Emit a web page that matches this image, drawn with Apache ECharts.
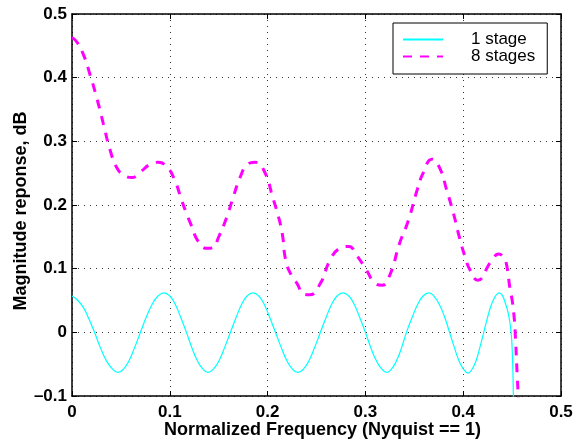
<!DOCTYPE html>
<html><head><meta charset="utf-8">
<script src="https://cdn.jsdelivr.net/npm/echarts@6/dist/echarts.min.js"></script>
<style>html,body{margin:0;padding:0;background:#fff}#c{width:580px;height:444px}</style>
</head><body><div id="c"></div>
<script>
// 1 stage response
const freq1 = [0.000,0.006,0.012,0.017,0.023,0.029,0.035,0.041,0.047,0.053,0.0585,0.064,0.070,0.076,0.082,0.088,0.094,0.100,0.1055,0.111,0.117,0.1225,0.128,0.1335,0.139,0.145,0.1505,0.156,0.162,0.168,0.1735,0.179,0.185,0.191,0.1965,0.202,0.208,0.214,0.2195,0.225,0.231,0.237,0.2425,0.248,0.254,0.260,0.2655,0.271,0.277,0.283,0.2885,0.294,0.300,0.3055,0.311,0.3165,0.322,0.327,0.332,0.337,0.342,0.348,0.3535,0.359,0.365,0.370,0.3755,0.381,0.386,0.391,0.3955,0.400,0.405,0.409,0.413,0.417,0.421,0.425,0.429,0.433,0.437,0.440,0.443,0.446,0.449,0.4506,0.4513,0.452];
const mag1  = [0.057,0.050,0.038,0.022,0.000,-0.024,-0.044,-0.057,-0.063,-0.057,-0.044,-0.024,0.000,0.024,0.044,0.057,0.062,0.057,0.044,0.024,0.000,-0.024,-0.044,-0.057,-0.063,-0.057,-0.044,-0.024,0.000,0.024,0.044,0.057,0.062,0.057,0.044,0.024,0.000,-0.024,-0.044,-0.057,-0.063,-0.057,-0.044,-0.024,0.000,0.024,0.044,0.057,0.062,0.057,0.044,0.024,0.000,-0.024,-0.044,-0.057,-0.063,-0.057,-0.044,-0.024,0.000,0.024,0.044,0.057,0.062,0.057,0.044,0.024,0.000,-0.024,-0.044,-0.057,-0.064,-0.058,-0.045,-0.024,0.000,0.024,0.044,0.057,0.062,0.058,0.046,0.030,0.000,-0.050,-0.100,-0.150];
// 8 stages response
const freq8 = [0.000,0.005,0.012,0.018,0.025,0.032,0.039,0.046,0.053,0.061,0.070,0.080,0.088,0.097,0.105,0.112,0.117,0.122,0.129,0.138,0.144,0.150,0.158,0.165,0.172,0.179,0.187,0.196,0.206,0.211,0.215,0.219,0.226,0.230,0.237,0.243,0.254,0.264,0.274,0.283,0.291,0.301,0.310,0.317,0.325,0.335,0.344,0.353,0.359,0.368,0.376,0.383,0.390,0.396,0.402,0.407,0.415,0.419,0.425,0.430,0.436,0.441,0.444,0.448,0.450,0.452,0.453,0.4553,0.4563,0.457];
const mag8  = [0.463,0.456,0.435,0.407,0.370,0.328,0.286,0.258,0.247,0.243,0.252,0.264,0.267,0.260,0.239,0.208,0.187,0.168,0.143,0.132,0.133,0.150,0.180,0.213,0.244,0.263,0.267,0.255,0.208,0.182,0.155,0.110,0.085,0.077,0.060,0.059,0.077,0.114,0.132,0.135,0.121,0.098,0.077,0.074,0.090,0.140,0.176,0.224,0.250,0.272,0.258,0.224,0.187,0.150,0.118,0.098,0.082,0.085,0.103,0.114,0.123,0.119,0.109,0.067,0.051,0.025,0.004,-0.070,-0.100,-0.120];
const seriesNames = ['1 stage', '8 stages'];
const xRange = [0, 0.5];
const yRange = [-0.1, 0.5];
const tickStep = 0.1;
const xTitle = 'Normalized Frequency (Nyquist == 1)';
const yTitle = 'Magnitude reponse, dB';

const FONT = "'Liberation Sans', Arial, Helvetica, sans-serif";
const fmt = v => { const r = Math.round(v * 10) / 10; return r === 0 ? '0' : String(r).replace('-', '\u2013'); };
const lineAxis = { show: true, onZero: false, lineStyle: { color: '#000', width: 1.5 } };
const tickIn = { show: true, inside: true, length: 5, lineStyle: { color: '#000', width: 1 } };
const gridLine = { show: true, lineStyle: { color: '#333', width: 1, type: [1, 5] } };

const chart = echarts.init(document.getElementById('c'), null, { renderer: 'canvas' });
chart.setOption({
  animation: false,
  backgroundColor: '#fff',
  grid: { left: 72, right: 19, top: 14, bottom: 48 },
  legend: {
    orient: 'vertical', left: 393, top: 23,
    padding: [8, 12, 9, 9], itemWidth: 40, itemHeight: 10, itemGap: 0,
    borderColor: '#000', borderWidth: 1, backgroundColor: '#fff',
    itemStyle: { opacity: 0 },
    textStyle: { fontFamily: FONT, fontSize: 17, color: '#000', lineHeight: 15, padding: [0, 0, 0, 23] },
    data: seriesNames
  },
  xAxis: [
    { type: 'value', position: 'bottom', min: xRange[0], max: xRange[1], interval: tickStep,
      axisLine: lineAxis, axisTick: tickIn, splitLine: gridLine,
      axisLabel: { formatter: fmt, margin: 8, color: '#000', fontFamily: FONT, fontWeight: 'bold', fontSize: 17 },
      name: xTitle, nameLocation: 'middle', nameGap: 25, nameMoveOverlap: false,
      nameTextStyle: { fontFamily: FONT, fontWeight: 'bold', fontSize: 18, color: '#000', padding: [0, 0, 0, 12] } },
    { type: 'value', position: 'top', min: xRange[0], max: xRange[1], interval: tickStep,
      axisLine: lineAxis, axisTick: tickIn, splitLine: { show: false }, axisLabel: { show: false } }
  ],
  yAxis: [
    { type: 'value', position: 'left', min: yRange[0], max: yRange[1], interval: tickStep,
      axisLine: lineAxis, axisTick: tickIn, splitLine: gridLine,
      axisLabel: { formatter: fmt, margin: 5, color: '#000', fontFamily: FONT, fontWeight: 'bold', fontSize: 17 },
      name: yTitle, nameLocation: 'middle', nameGap: 42, nameRotate: 90, nameMoveOverlap: false,
      nameTextStyle: { fontFamily: FONT, fontWeight: 'bold', fontSize: 18, color: '#000', padding: [0, 12, 0, 0] } },
    { type: 'value', position: 'right', min: yRange[0], max: yRange[1], interval: tickStep,
      axisLine: lineAxis, axisTick: tickIn, splitLine: { show: false }, axisLabel: { show: false } }
  ],
  series: [
    { name: seriesNames[0], type: 'line', xAxisIndex: 0, yAxisIndex: 0, symbol: 'none', smooth: true, clip: true,
      lineStyle: { color: '#00ffff', width: 1.2 }, itemStyle: { color: '#00ffff' },
      data: freq1.map((f, i) => [f, mag1[i]]) },
    { name: seriesNames[1], type: 'line', xAxisIndex: 0, yAxisIndex: 0, symbol: 'none', smooth: true, clip: true,
      lineStyle: { color: '#ff00ff', width: 3, type: [9, 8] }, itemStyle: { color: '#ff00ff' },
      data: freq8.map((f, i) => [f, mag8[i]]) }
  ]
});
</script></body></html>
